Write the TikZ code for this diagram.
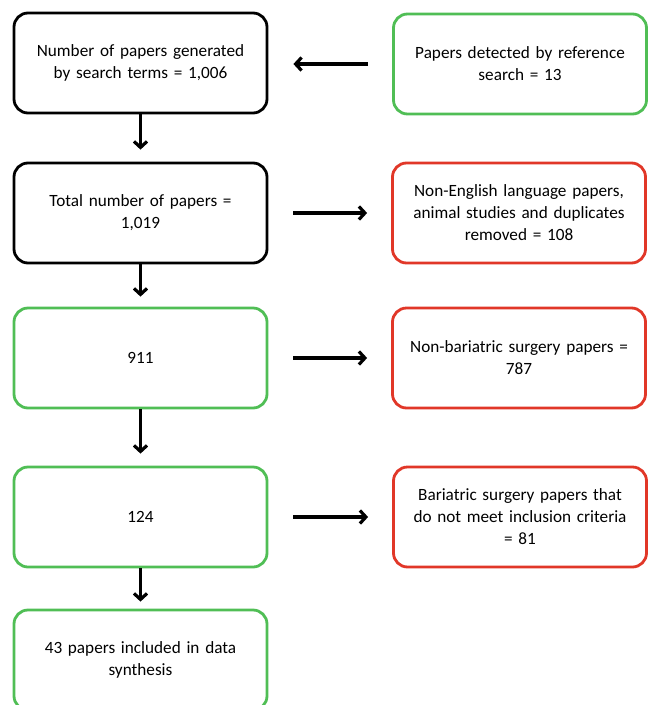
\documentclass[tikz,border=0pt]{standalone}
\usepackage{fontspec}
\setmainfont{Carlito}
\usetikzlibrary{arrows.meta}
\definecolor{boxgreen}{RGB}{80,190,85}
\definecolor{boxred}{RGB}{225,55,40}
\tikzset{
  box/.style={draw, rectangle, rounded corners=14pt, line width=2.8pt,
    minimum width=253pt, minimum height=100pt, align=center, text width=240pt,
    font=\fontsize{17.2}{22}\selectfont, inner sep=0pt},
  blackbox/.style={box, draw=black},
  greenbox/.style={box, draw=boxgreen},
  redbox/.style={box, draw=boxred},
  conn/.style={line width=3.2pt, -{Straight Barb[length=6pt,width=13pt,line width=3.2pt]}}
}
\begin{document}
\begin{tikzpicture}[x=1pt,y=-1pt]
\useasboundingbox (0,0) rectangle (649,705);
\begin{scope}
\clip (0,0) rectangle (649,705);
\node[blackbox] (L1) at (140.5,63) {Number of papers generated\\by search terms = 1,006};
\node[greenbox] (R1) at (520,64) {Papers detected by reference\\search = 13};
\node[blackbox] (L2) at (140.5,213) {Total number of papers =\\1,019};
\node[redbox] (R2) at (519,213) {Non-English language papers,\\animal studies and duplicates\\removed = 108};
\node[greenbox] (L3) at (140.5,358) {911};
\node[redbox] (R3) at (519,358) {Non-bariatric surgery papers =\\787};
\node[greenbox] (L4) at (140.5,517) {124};
\node[redbox] (R4) at (520,517) {Bariatric surgery papers that\\do not meet inclusion criteria\\= 81};
\node[greenbox] (L5) at (140.5,660) {43 papers included in data\\synthesis};

\draw[conn, shorten <=24pt, shorten >=25pt] (R1.west) -- (R1.west -| L1.east);
\draw[conn, shorten <=25pt, shorten >=24pt] (L2.east) -- (R2.west);
\draw[conn, shorten <=25pt, shorten >=24pt] (L3.east) -- (R3.west);
\draw[conn, shorten <=25pt, shorten >=24pt] (L4.east) -- (R4.west);
\draw[conn, shorten >=12pt] (L1.south) -- (L2.north);
\draw[conn, shorten >=10pt] (L2.south) -- (L3.north);
\draw[conn, shorten >=12pt] (L3.south) -- (L4.north);
\draw[conn, shorten >=7pt] (L4.south) -- (L5.north);
\end{scope}
\end{tikzpicture}
\end{document}
